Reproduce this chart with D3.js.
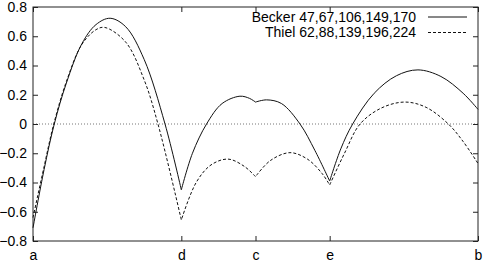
<!DOCTYPE html>
<html>
<head>
<meta charset="utf-8">
<script src="https://cdn.jsdelivr.net/npm/d3@7"></script>
<style>
  body { margin: 0; background: #fff; }
  text { font-family: "Liberation Sans", Arial, sans-serif; font-size: 14px; fill: #000; }
</style>
</head>
<body>
<div class="chart"></div>
<script>
var w = 483, h = 273,
	m = { top: 7, right: 5, bottom: 32, left: 33 };

// path positions along the x axis and their labels
var xTicks = [0, 2, 3, 4, 6],
	xLabels = ['a', 'd', 'c', 'e', 'b'],
	cusps = [2, 3, 4];

var yTicks = [-0.8, -0.6, -0.4, -0.2, 0, 0.2, 0.4, 0.6, 0.8];

// Becker 47,67,106,149,170 (solid)
var beckerK = [0, 0.15, 0.287, 0.45, 0.66, 0.85, 1.04, 1.25, 1.5, 1.78, 2,
			   2.15, 2.34, 2.55, 2.79, 2.92, 3,
			   3.15, 3.35, 3.6, 3.8, 4,
			   4.15, 4.31, 4.6, 4.9, 5.19, 5.5, 5.8, 6];
var beckerV = [-0.71, -0.31, 0, 0.28, 0.55, 0.68, 0.723, 0.665, 0.44, 0, -0.45,
			   -0.20, 0, 0.14, 0.19, 0.175, 0.15,
			   0.165, 0.14, 0, -0.18, -0.39,
			   -0.17, 0, 0.21, 0.33, 0.37, 0.325, 0.21, 0.1];

// Thiel 62,88,139,196,224 (dashed)
var thielK = [0, 0.15, 0.28, 0.45, 0.66, 0.85, 0.97, 1.25, 1.5, 1.685, 2,
			  2.2, 2.4, 2.63, 2.85, 3,
			  3.2, 3.465, 3.7, 3.9, 4,
			  4.2, 4.41, 4.7, 5.016, 5.3, 5.6, 5.8, 6];
var thielV = [-0.64, -0.29, 0, 0.29, 0.545, 0.645, 0.66, 0.56, 0.30, 0, -0.656,
			  -0.40, -0.28, -0.24, -0.29, -0.36,
			  -0.25, -0.196, -0.24, -0.34, -0.417,
			  -0.20, 0, 0.11, 0.15, 0.114, 0, -0.12, -0.27];

var series = [
	{ name: 'Becker 47,67,106,149,170', k: beckerK, v: beckerV, dash: null },
	{ name: 'Thiel 62,88,139,196,224', k: thielK, v: thielV, dash: '3,2' }
];

var x = d3.scaleLinear().domain([0, 6]).range([m.left, w - m.right]),
	y = d3.scaleLinear().domain([-0.8, 0.8]).range([h - m.bottom, m.top]);

var svg = d3.select('.chart').append('svg')
			.attr('width', w)
			.attr('height', h);

// zero line
svg.append('line')
	.attr('x1', x(0)).attr('x2', x(6))
	.attr('y1', y(0)).attr('y2', y(0))
	.attr('stroke', '#777')
	.attr('stroke-dasharray', '1,2');

// axes, ticks pointing inward on all four sides
var tl = 5;
svg.append('g')
	.attr('transform', 'translate(0,' + (h - m.bottom) + ')')
	.call(d3.axisBottom(x).tickValues(xTicks).tickSizeInner(-tl).tickSizeOuter(0)
		.tickPadding(9).tickFormat(function(d, i) { return xLabels[i]; }));
svg.append('g')
	.attr('transform', 'translate(0,' + m.top + ')')
	.call(d3.axisTop(x).tickValues(xTicks).tickSizeInner(-tl).tickSizeOuter(0).tickFormat(''));
svg.append('g')
	.attr('class', 'yaxis')
	.attr('transform', 'translate(' + m.left + ',0)')
	.call(d3.axisLeft(y).tickValues(yTicks).tickSizeInner(-tl).tickSizeOuter(0)
		.tickPadding(6).tickFormat(function(d) { return d === 0 ? '0' : d3.format('.1f')(d); }));
svg.append('g')
	.attr('transform', 'translate(' + (w - m.right) + ',0)')
	.call(d3.axisRight(y).tickValues(yTicks).tickSizeInner(-tl).tickSizeOuter(0).tickFormat(''));

svg.selectAll('.domain').remove();
svg.selectAll('.tick line').attr('stroke', '#222');
svg.selectAll('.tick text').attr('font-size', 14).attr('font-family', null).attr('fill', '#000');
svg.selectAll('.yaxis .tick text').attr('font-size', 13.5);

// frame
svg.append('rect')
	.attr('x', x(0)).attr('y', y(0.8))
	.attr('width', x(6) - x(0)).attr('height', y(-0.8) - y(0.8))
	.attr('fill', 'none')
	.attr('stroke', '#222');

// curves: smooth pieces, sharp at d, c, e
var line = d3.line()
			.x(function(d) { return x(d[0]); })
			.y(function(d) { return y(d[1]); })
			.curve(d3.curveCatmullRom.alpha(0.5));

function pathFor(s) {
	var pts = s.k.map(function(k, i) { return [k, s.v[i]]; }),
		edges = [0].concat(cusps, [6]),
		d = '';
	for (var j = 0; j < edges.length - 1; j++) {
		var seg = pts.filter(function(p) { return p[0] >= edges[j] && p[0] <= edges[j + 1]; }),
			str = line(seg);
		d += j === 0 ? str : str.replace(/^M/, 'L');
	}
	return d;
}

svg.selectAll('path.series')
	.data(series)
	.enter()
	.append('path')
	.attr('class', 'series')
	.attr('d', pathFor)
	.attr('fill', 'none')
	.attr('stroke', '#111')
	.attr('stroke-width', 1)
	.attr('stroke-dasharray', function(d) { return d.dash; });

// key
var key = svg.selectAll('g.key')
			.data(series)
			.enter()
			.append('g')
			.attr('class', 'key')
			.attr('transform', function(d, i) { return 'translate(0,' + (17 + i * 15.5) + ')'; });
key.append('text')
	.attr('x', 416)
	.attr('dy', '0.35em')
	.attr('text-anchor', 'end')
	.text(function(d) { return d.name; });
key.append('line')
	.attr('x1', 428).attr('x2', 467)
	.attr('stroke', '#111')
	.attr('stroke-dasharray', function(d) { return d.dash; });
</script>
</body>
</html>
